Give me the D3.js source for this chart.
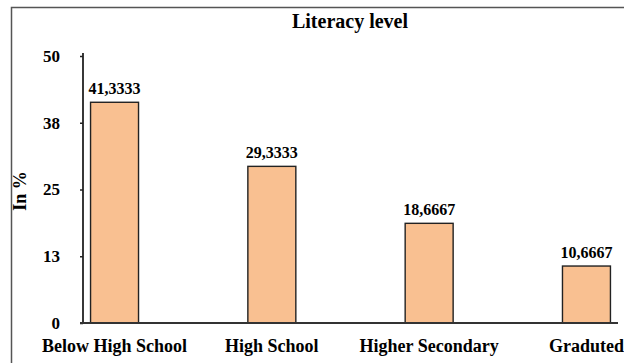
<!DOCTYPE html>
<html>
<head>
<meta charset="utf-8">
<script src="https://cdn.jsdelivr.net/npm/d3@7"></script>
<style>
  html, body { margin: 0; padding: 0; background: #fff; }
  svg { display: block; }
  text { font-family: "Liberation Serif", "Times New Roman", serif; font-weight: bold; fill: #000; }
</style>
</head>
<body>
<svg id="chart" width="624" height="363"></svg>
<script>
// Literacy level shares (%)
const categories = ["Below High School", "High School", "Higher Secondary", "Graduted"];
const values = [41.3333, 29.3333, 18.6667, 10.6667];
const yTicks = [0, 12.5, 25, 37.5, 50];
const title = "Literacy level";
const yTitle = "In %";

const W = 624, H = 363;
const svg = d3.select("#chart");

// European-style decimal comma for value labels
const locale = d3.formatLocale({ decimal: ",", thousands: ".", grouping: [3], currency: ["", ""] });
const fmtValue = locale.format(".4f");

const x = d3.scaleBand()
  .domain(categories)
  .range([83, 618])
  .paddingInner(0.695)
  .paddingOuter(0.048);

const y = d3.scaleLinear()
  .domain([0, 50])
  .range([323, 56]);

// outer frame
svg.append("rect")
  .attr("x", 11.5).attr("y", 7.5)
  .attr("width", 640).attr("height", 380)
  .attr("fill", "none")
  .attr("stroke", "#555")
  .attr("stroke-width", 1.5);

// title
svg.append("text")
  .attr("x", 350).attr("y", 28)
  .attr("text-anchor", "middle")
  .style("font-size", "20px")
  .text(title);

// y-axis title
svg.append("text")
  .attr("transform", "translate(26,191) rotate(-90)")
  .attr("text-anchor", "middle")
  .style("font-size", "18px")
  .text(yTitle);

// bars
svg.append("g")
  .selectAll("rect")
  .data(values)
  .join("rect")
  .attr("x", (d, i) => x(categories[i]))
  .attr("y", d => y(d))
  .attr("width", x.bandwidth())
  .attr("height", d => y(0) - y(d))
  .attr("fill", "#F9C091")
  .attr("stroke", "#222")
  .attr("stroke-width", 1.4);

// value labels
svg.append("g")
  .selectAll("text")
  .data(values)
  .join("text")
  .attr("x", (d, i) => x(categories[i]) + x.bandwidth() / 2)
  .attr("y", d => y(d) - 8)
  .attr("text-anchor", "middle")
  .style("font-size", "16px")
  .text(d => fmtValue(d));

// y axis
const yAxis = d3.axisLeft(y)
  .tickValues(yTicks)
  .tickSize(3)
  .tickPadding(20)
  .tickFormat(d => Math.round(d));

const gy = svg.append("g")
  .attr("transform", "translate(83,0)")
  .call(yAxis);
gy.select(".domain").attr("stroke", "#222").attr("stroke-width", 1.8)
  .attr("d", `M0,${y(50) - 3}V${y(0)}`);
gy.selectAll(".tick line").attr("stroke", "#222").attr("stroke-width", 1.5);
gy.selectAll(".tick text")
  .style("font-size", "17px")
  .style("font-family", "'Liberation Serif', 'Times New Roman', serif")
  .style("font-weight", "bold")
  .attr("fill", "#000");

// x axis
const xAxis = d3.axisBottom(x).tickSize(0).tickPadding(16);
const gx = svg.append("g")
  .attr("transform", `translate(0,${y(0)})`)
  .call(xAxis);
gx.select(".domain").attr("stroke", "#333").attr("stroke-width", 1.8)
  .attr("d", `M80,0H618`);
gx.selectAll(".tick text")
  .style("font-size", "18px")
  .style("font-family", "'Liberation Serif', 'Times New Roman', serif")
  .style("font-weight", "bold")
  .attr("fill", "#000");
</script>
</body>
</html>
